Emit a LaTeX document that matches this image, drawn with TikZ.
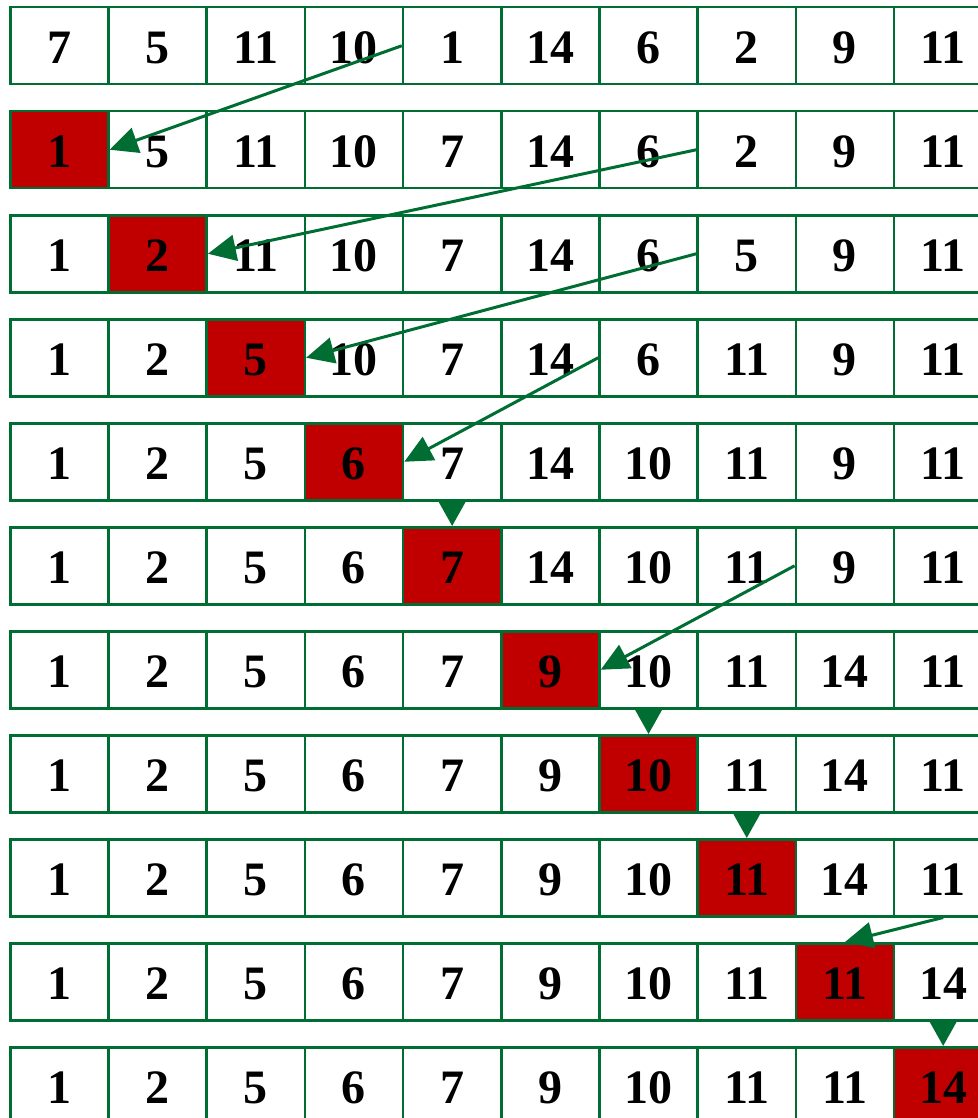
\documentclass[tikz,border=0pt]{standalone}
\usepackage{fontspec}
\setmainfont{Liberation Serif}
\usetikzlibrary{arrows.meta}
\definecolor{cgreen}{RGB}{0,110,50}
\definecolor{cred}{RGB}{192,0,0}
\begin{document}
\begin{tikzpicture}[x=1pt,y=-1pt,
  cell/.style={draw=cgreen,line width=2.5pt,minimum width=98.2pt,minimum height=77pt,
    inner sep=0pt,anchor=north west,text height=36.4pt,text depth=0pt,
    font=\fontsize{48}{48}\selectfont\bfseries},
  hl/.style={fill=cred},
  arr/.style={draw=cgreen,line width=3pt,-{Triangle[length=28pt,width=26pt]}},
  darr/.style={draw=cgreen,line width=3pt,-{Triangle[length=24pt,width=26pt]}}]
\useasboundingbox (0,0) rectangle (977,1118);
\foreach \vals [count=\i] in {
  {7,5,11,10,1,14,6,2,9,11},
  {1,5,11,10,7,14,6,2,9,11},
  {1,2,11,10,7,14,6,5,9,11},
  {1,2,5,10,7,14,6,11,9,11},
  {1,2,5,6,7,14,10,11,9,11},
  {1,2,5,6,7,14,10,11,9,11},
  {1,2,5,6,7,9,10,11,14,11},
  {1,2,5,6,7,9,10,11,14,11},
  {1,2,5,6,7,9,10,11,14,11},
  {1,2,5,6,7,9,10,11,11,14},
  {1,2,5,6,7,9,10,11,11,14}}{
  \foreach \v [count=\j] in \vals {
    \pgfmathtruncatemacro{\hit}{\j==\i-1 ? 1 : 0}
    \ifnum\hit=1 \def\st{hl}\else\def\st{}\fi
    \node[cell,\st] (c-\i-\j) at ({9+98.2*(\j-1)},{6+104*(\i-1)}) {\v};
  }
}
\draw[arr] (c-1-5.west) -- (c-2-1.east);
\draw[arr] (c-2-8.west) -- (c-3-2.east);
\draw[arr] (c-3-8.west) -- (c-4-3.east);
\draw[arr] (c-4-7.west) -- (c-5-4.east);
\draw[darr] (c-5-5.south) -- (c-6-5.north);
\draw[arr] (c-6-9.west) -- (c-7-6.east);
\draw[darr] (c-7-7.south) -- (c-8-7.north);
\draw[darr] (c-8-8.south) -- (c-9-8.north);
\draw[arr] (c-9-10.south) -- (c-10-9.north);
\draw[darr] (c-10-10.south) -- (c-11-10.north);
\end{tikzpicture}
\end{document}
